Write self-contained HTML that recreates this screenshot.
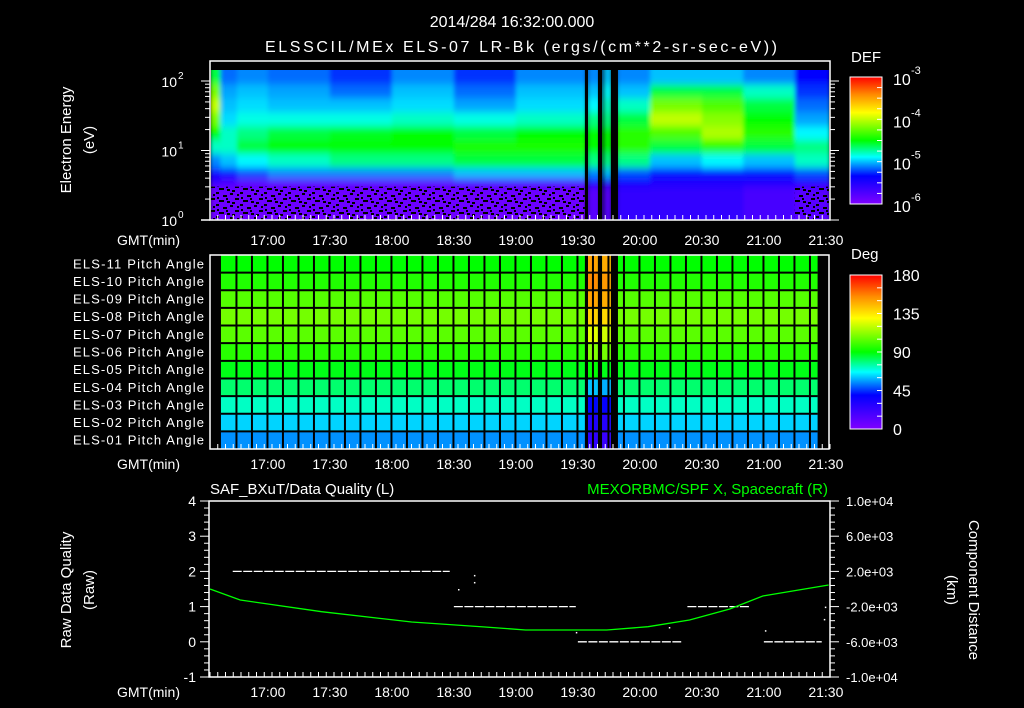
<!DOCTYPE html>
<html><head><meta charset="utf-8">
<style>
html,body{margin:0;padding:0;background:#000;}
svg{display:block;font-family:"Liberation Sans",sans-serif;}
text{fill:#fff;}
</style></head>
<body>
<svg id="chart" width="1024" height="708" viewBox="0 0 1024 708" xmlns="http://www.w3.org/2000/svg">
<defs>
<linearGradient id="cmap" x1="0" y1="1" x2="0" y2="0">
<stop offset="0" stop-color="rgb(128,0,255)"/>
<stop offset="0.22" stop-color="rgb(0,0,255)"/>
<stop offset="0.37" stop-color="rgb(0,255,255)"/>
<stop offset="0.5" stop-color="rgb(0,255,0)"/>
<stop offset="0.72" stop-color="rgb(255,255,0)"/>
<stop offset="0.86" stop-color="rgb(255,140,0)"/>
<stop offset="1" stop-color="rgb(255,0,0)"/>
</linearGradient>
<pattern id="speck" width="24" height="12" patternUnits="userSpaceOnUse">
<rect x="0" y="0" width="3" height="2" fill="#000"/><rect x="7" y="3" width="4" height="2" fill="#000"/>
<rect x="14" y="1" width="3" height="2" fill="#000"/><rect x="19" y="6" width="4" height="2" fill="#000"/>
<rect x="3" y="8" width="5" height="2" fill="#000"/><rect x="11" y="9" width="3" height="2" fill="#000"/>
<rect x="16" y="10" width="3" height="2" fill="#000"/><rect x="1" y="5" width="2" height="2" fill="#000"/>
<rect x="10" y="6" width="2" height="2" fill="#000"/><rect x="21" y="2" width="2" height="2" fill="#000"/>
</pattern>
<filter id="soft" x="-5%" y="-5%" width="110%" height="110%"><feGaussianBlur stdDeviation="2 4"/></filter>
<clipPath id="specClip"><rect x="211" y="70" width="618" height="150"/></clipPath>
</defs>
<g clip-path="url(#specClip)">
<g id="g-spec" filter="url(#soft)"></g>
<g id="g-spec2"></g>
</g>
<g id="g-pitch"></g>
<g id="g-line"></g>
<g id="g-axes"></g>

<text x="512" y="27" font-size="16" text-anchor="middle">2014/284 16:32:00.000</text>
<text x="521" y="52" font-size="16" text-anchor="middle" textLength="512">ELSSCIL/MEx ELS-07 LR-Bk  (ergs/(cm**2-sr-sec-eV))</text>

<text transform="translate(71,140) rotate(-90)" font-size="15" text-anchor="middle">Electron Energy</text>
<text transform="translate(94,140) rotate(-90)" font-size="15" text-anchor="middle">(eV)</text>
<text transform="translate(71,590) rotate(-90)" font-size="15" text-anchor="middle">Raw Data Quality</text>
<text transform="translate(94,590) rotate(-90)" font-size="15" text-anchor="middle">(Raw)</text>
<text transform="translate(969,590) rotate(90)" font-size="15" text-anchor="middle">Component Distance</text>
<text transform="translate(947,590) rotate(90)" font-size="15" text-anchor="middle">(km)</text>

<text x="210" y="494" font-size="15">SAF_BXuT/Data Quality (L)</text>
<text x="828" y="494" font-size="15" text-anchor="end" style="fill:#00ff00">MEXORBMC/SPF X, Spacecraft (R)</text>

<rect x="850" y="77" width="32" height="127" fill="url(#cmap)" stroke="#fff" stroke-width="1"/>
<text x="851" y="62" font-size="15">DEF</text>
<rect x="850" y="275" width="32" height="154" fill="url(#cmap)" stroke="#fff" stroke-width="1"/>
<text x="851" y="259" font-size="15">Deg</text>
<g id="g-cbar"></g>
</svg>
<script>
// ---------- data ----------
var specSegStart = [992, 997, 1005, 1020, 1050, 1080, 1110, 1140, 1174, 1175, 1181, 1183, 1186, 1189, 1205, 1230, 1250, 1275];
var specSegEnd   = [997, 1005, 1020, 1050, 1080, 1110, 1140, 1174, 1175, 1181, 1183, 1186, 1189, 1205, 1230, 1250, 1275, 1292];
var specLogE = [2.16, 1.95, 1.75, 1.55, 1.35, 1.15, 0.95, 0.75, 0.6, 0.48, 0.0];
var specLogDEF = [
 [-4.6,-4.2,-4.0,-4.2,-4.5,-4.8,-5.1,-5.4,-5.6,-5.9],
 [-5.15,-5.05,-5.0,-4.95,-4.8,-4.8,-5.0,-5.3,-5.7,-5.9],
 [-5.1,-5.0,-4.95,-4.85,-4.7,-4.6,-4.9,-5.2,-5.8,-5.9],
 [-5.15,-5.05,-5.0,-4.85,-4.6,-4.5,-4.8,-5.1,-5.8,-5.9],
 [-5.25,-5.15,-5.0,-4.85,-4.55,-4.5,-4.7,-5.1,-5.8,-5.9],
 [-5.1,-5.0,-4.95,-4.8,-4.5,-4.5,-4.7,-5.1,-5.8,-5.9],
 [-5.25,-5.15,-5.05,-4.85,-4.6,-4.45,-4.6,-5.0,-5.7,-5.9],
 [-5.1,-5.0,-4.95,-4.8,-4.5,-4.45,-4.6,-5.0,-5.7,-5.9],
 null,
 [-5.1,-5.0,-4.9,-4.7,-4.5,-4.5,-4.7,-5.1,-5.4,-5.8],
 null,
 [-5.0,-4.9,-4.8,-4.7,-4.5,-4.5,-4.7,-5.0,-5.4,-5.8],
 null,
 [-5.1,-5.0,-4.8,-4.6,-4.4,-4.4,-4.7,-5.2,-5.4,-5.6],
 [-5.0,-4.6,-4.2,-4.0,-4.3,-4.6,-5.0,-5.3,-5.5,-5.6],
 [-5.0,-4.6,-4.3,-4.15,-4.05,-4.4,-4.9,-5.3,-5.5,-5.6],
 [-5.1,-4.8,-4.6,-4.5,-4.4,-4.6,-5.0,-5.3,-5.5,-5.7],
 [-5.35,-5.25,-5.15,-5.05,-4.9,-4.7,-4.8,-5.2,-5.5,-5.8]
];
var pitchLabels = ["ELS-11","ELS-10","ELS-09","ELS-08","ELS-07","ELS-06","ELS-05","ELS-04","ELS-03","ELS-02","ELS-01"];
var pitchAngles = [90, 95, 103, 108, 104, 96, 88, 80, 72, 62, 55];
var pitchStart = 997.3, pitchEnd = 1286, pitchBin = 7.5;
var gapStart = [1173.4, 1179.7, 1186.0];
var gapEnd   = [1174.9, 1181.7, 1189.4];
var stripStart = [1174.9, 1181.7];
var stripEnd   = [1179.7, 1186.0];
var stripAngles = [
 [150,155,150,140,125,110,90,60,40,30,25],
 [148,152,148,138,122,108,88,58,38,28,22]
];
var timeTicks = ["17:00","17:30","18:00","18:30","19:00","19:30","20:00","20:30","21:00","21:30"];
var timeTickMin = [1020,1050,1080,1110,1140,1170,1200,1230,1260,1290];
var posT = [992, 1006.6, 1046, 1089.6, 1125, 1144.7, 1184, 1204, 1224, 1243.5, 1259.5, 1291.3];
var posX = [0, -1250, -2580, -3750, -4320, -4660, -4660, -4280, -3520, -2270, -800, 450];
var qStart = [1003, 1110, 1170, 1223, 1260];
var qEnd   = [1108, 1169, 1220, 1253, 1288];
var qVal   = [2, 1, 0, 1, 0];
var qDotT = [1112, 1119.7, 1119.7, 1169, 1214, 1260.5, 1289.5, 1289];
var qDotV = [1.5, 1.7, 1.9, 0.28, 0.42, 0.33, 1.0, 0.65];
var qTicks = [4,3,2,1,0,-1];
var kmTicks = ["1.0e+04","6.0e+03","2.0e+03","-2.0e+03","-6.0e+03","-1.0e+04"];
var kmTickVal = [10000,6000,2000,-2000,-6000,-10000];
var defTickExp = ["-3","-4","-5","-6"];
var degTicks = ["180","135","90","45","0"];

// ---------- scales ----------
var NS = "http://www.w3.org/2000/svg";
function xT(t){ return 210 + (t - 992) * (620/300); }
function yE(l){ return 220 - l * 69.5; }
function yQ(v){ return 501 + (4 - v) * 35.2; }
function yK(v){ return 501 + (10000 - v) / 20000 * 176; }
var stops = [[0,128,0,255],[0.22,0,0,255],[0.37,0,255,255],[0.5,0,255,0],[0.72,255,255,0],[0.86,255,140,0],[1,255,0,0]];
function cmap(f){
  f = Math.max(0, Math.min(1, f));
  for (var i=1;i<stops.length;i++){
    if (f <= stops[i][0]){
      var a=stops[i-1], b=stops[i], u=(f-a[0])/(b[0]-a[0]);
      return "rgb("+Math.round(a[1]+(b[1]-a[1])*u)+","+Math.round(a[2]+(b[2]-a[2])*u)+","+Math.round(a[3]+(b[3]-a[3])*u)+")";
    }
  }
  return "rgb(255,0,0)";
}
function mk(tag, attrs, parent){
  var e = document.createElementNS(NS, tag);
  for (var k in attrs) e.setAttribute(k, attrs[k]);
  parent.appendChild(e);
  return e;
}
var gS = document.getElementById("g-spec");
var gS2 = document.getElementById("g-spec2");
var gP = document.getElementById("g-pitch");
var gL = document.getElementById("g-line");
var gA = document.getElementById("g-axes");
var gC = document.getElementById("g-cbar");

// ---------- spectrogram ----------
for (var s=0;s<specSegStart.length;s++){
  var col = specLogDEF[s];
  var x0 = xT(specSegStart[s]), x1 = xT(specSegEnd[s]);
  for (var b=0;b<10;b++){
    var y0 = yE(specLogE[b]), y1 = yE(specLogE[b+1]);
    if (b===0) y0 = 60;
    if (b===9) y1 = 230;
    var r = mk("rect", {x:x0, y:y0, width:x1-x0+0.3, height:y1-y0+0.3, fill: col ? cmap((col[b]+6)/3) : "#000"}, gS);
    
    
  }
}
var sp1 = mk("rect", {x:xT(992), y:yE(0.48), width:xT(1173.4)-xT(992), height:yE(0)-yE(0.48), fill:"url(#speck)"}, gS2);


var sp2 = mk("rect", {x:xT(1275), y:yE(0.48), width:xT(1292)-xT(1275), height:yE(0)-yE(0.48), fill:"url(#speck)"}, gS2);



// ---------- pitch angle panel ----------
var rowTop = 255, rowH = 194/11;
for (var i=0;i<pitchLabels.length;i++){
  var ry = rowTop + i*rowH;
  var pr = mk("rect", {x:xT(pitchStart), y:ry, width:xT(pitchEnd)-xT(pitchStart), height:rowH+0.3, fill:cmap(pitchAngles[i]/180)}, gP);
  
  
  for (var k=0;k<stripStart.length;k++){
    var sr = mk("rect", {x:xT(stripStart[k]), y:ry, width:xT(stripEnd[k])-xT(stripStart[k]), height:rowH+0.3, fill:cmap(stripAngles[k][i]/180)}, gP);
    
    
  }
  var lt = mk("text", {x:204, y:ry+rowH/2+4.5, "font-size":13, "text-anchor":"end", textLength:131}, gA);
  lt.textContent = pitchLabels[i] + " Pitch Angle";
  
  
  if (i>0){
    var hl = mk("line", {x1:xT(pitchStart), x2:xT(pitchEnd), y1:ry, y2:ry, stroke:"#000", "stroke-width":2}, gP);
    
    
  }
}
for (var t=pitchStart+pitchBin; t<pitchEnd; t+=pitchBin){
  var vl = mk("line", {x1:xT(t), x2:xT(t), y1:255, y2:449, stroke:"#000", "stroke-width":2}, gP);
  
  
}
for (var g=0; g<gapStart.length; g++){
  var gr1 = mk("rect", {x:xT(gapStart[g]), y:70, width:xT(gapEnd[g])-xT(gapStart[g]), height:150, fill:"#000"}, gS2);
  
  
  var gr2 = mk("rect", {x:xT(gapStart[g]), y:255, width:xT(gapEnd[g])-xT(gapStart[g]), height:194, fill:"#000"}, gP);
  
  
}

// ---------- bottom panel ----------
for (var q=0;q<qStart.length;q++){
  var ql = mk("line", {x1:xT(qStart[q]), x2:xT(qEnd[q]), y1:yQ(qVal[q]), y2:yQ(qVal[q]), stroke:"#fff", "stroke-width":1.3, "stroke-dasharray":"9 1.5"}, gL);
  
  
}
for (var d=0; d<qDotT.length; d++){
  var qd = mk("rect", {x:xT(qDotT[d]), y:yQ(qDotV[d]), width:1.5, height:1.5, fill:"#fff"}, gL);
  
  
}
var pts = [];
for (var p=0;p<posT.length;p++) pts.push(xT(posT[p]).toFixed(1)+","+yK(posX[p]).toFixed(1));
var pl = mk("polyline", {points:pts.join(" "), fill:"none", stroke:"#00ff00", "stroke-width":1.3}, gL);



// ---------- axes ----------
function frame(x,y,w,h,name){
  var f = mk("rect", {x:x, y:y, width:w, height:h, fill:"none", stroke:"#fff", "stroke-width":1.5}, gA);
  
  
}
frame(210,61,620,159,"spectrogram-frame");
frame(210,255,619,194,"pitch-frame");
frame(209,501,621,176,"quality-frame");
var panels = [[61,220,240],[255,449,464],[501,677,692]];
for (var pi=0; pi<panels.length; pi++){
  var top = panels[pi][0], bot = panels[pi][1], ly = panels[pi][2];
  for (var m=0; m<=80; m++){
    var tm = 992 + m*3.75;
    if (tm > 1292) break;
    var big = (Math.abs((tm-1020)%30) < 0.01);
    var len = big ? 9 : 5;
    var t1 = mk("line", {x1:xT(tm), x2:xT(tm), y1:top, y2:top+len, stroke:"#fff", "stroke-width":1}, gA);
    
    
    var t2 = mk("line", {x1:xT(tm), x2:xT(tm), y1:bot, y2:bot-len, stroke:"#fff", "stroke-width":1}, gA);
    
    
  }
  for (var tl=0; tl<timeTicks.length; tl++){
    var tx = mk("text", {x:xT(timeTickMin[tl]), y:ly+5, "font-size":14, "text-anchor":"middle"}, gA);
    tx.textContent = timeTicks[tl];
    
    
  }
  var gm = mk("text", {x:117, y:ly+5, "font-size":14}, gA);
  gm.textContent = "GMT(min)";
  
  
}
var bl = mk("line", {x1:201, x2:210, y1:220, y2:220, stroke:"#fff", "stroke-width":1.5}, gA);


// energy axis
for (var dec=0; dec<3; dec++){
  for (var mm=1; mm<=9; mm++){
    var lv = dec + Math.log10(mm);
    if (lv > 2.29) break;
    var L = mm===1 ? 9 : 5;
    var e1 = mk("line", {x1:210-L, x2:210, y1:yE(lv), y2:yE(lv), stroke:"#fff", "stroke-width":1}, gA);
    
    
    var e2 = mk("line", {x1:830, x2:830+L, y1:yE(lv), y2:yE(lv), stroke:"#fff", "stroke-width":1}, gA);
    
    
  }
  var el = mk("text", {x:177, y:yE(dec)+6, "font-size":14, "text-anchor":"end"}, gA);
  el.textContent = "10";
  
  
  var es = mk("text", {x:178, y:yE(dec)-2, "font-size":10}, gA);
  es.textContent = String(dec);
  
  
}
// quality axis
for (var qi=0; qi<=25; qi++){
  var qv = -1 + qi*0.2;
  var isMaj = (qi%5===0);
  var ql1 = mk("line", {x1:isMaj?200:204, x2:209, y1:yQ(qv), y2:yQ(qv), stroke:"#fff", "stroke-width":1}, gA);
  
  
  var ql2 = mk("line", {x1:830, x2:isMaj?839:835, y1:yQ(qv), y2:yQ(qv), stroke:"#fff", "stroke-width":1}, gA);
  
  
}
for (var qt=0; qt<qTicks.length; qt++){
  var qlab = mk("text", {x:196, y:yQ(qTicks[qt])+5, "font-size":14, "text-anchor":"end"}, gA);
  qlab.textContent = String(qTicks[qt]);
  
  
}
for (var kt=0; kt<kmTicks.length; kt++){
  var klab = mk("text", {x:846, y:yK(kmTickVal[kt])+5, "font-size":13}, gA);
  klab.textContent = kmTicks[kt];
  
  
}
// colorbar labels
for (var c=0;c<defTickExp.length;c++){
  var cy = 77 + c*127/3;
  var c1 = mk("text", {x:893, y:cy+8, "font-size":16}, gC);
  c1.textContent = "10";
  
  
  var c2 = mk("text", {x:911, y:cy-3, "font-size":11}, gC);
  c2.textContent = defTickExp[c];
  
  
}
for (var c3=0;c3<degTicks.length;c3++){
  var dy = 275 + c3*154/4;
  var dl = mk("text", {x:893, y:dy+6, "font-size":16}, gC);
  dl.textContent = degTicks[c3];
  
  
}
for (var ct=0; ct<=12; ct++){
  var a1 = mk("line", {x1:877, x2:882, y1:77+ct*127/12, y2:77+ct*127/12, stroke:"#fff", "stroke-width":1}, gC);
  
  
  var a2 = mk("line", {x1:877, x2:882, y1:275+ct*154/12, y2:275+ct*154/12, stroke:"#fff", "stroke-width":1}, gC);
  
  
}
</script>
</body></html>
